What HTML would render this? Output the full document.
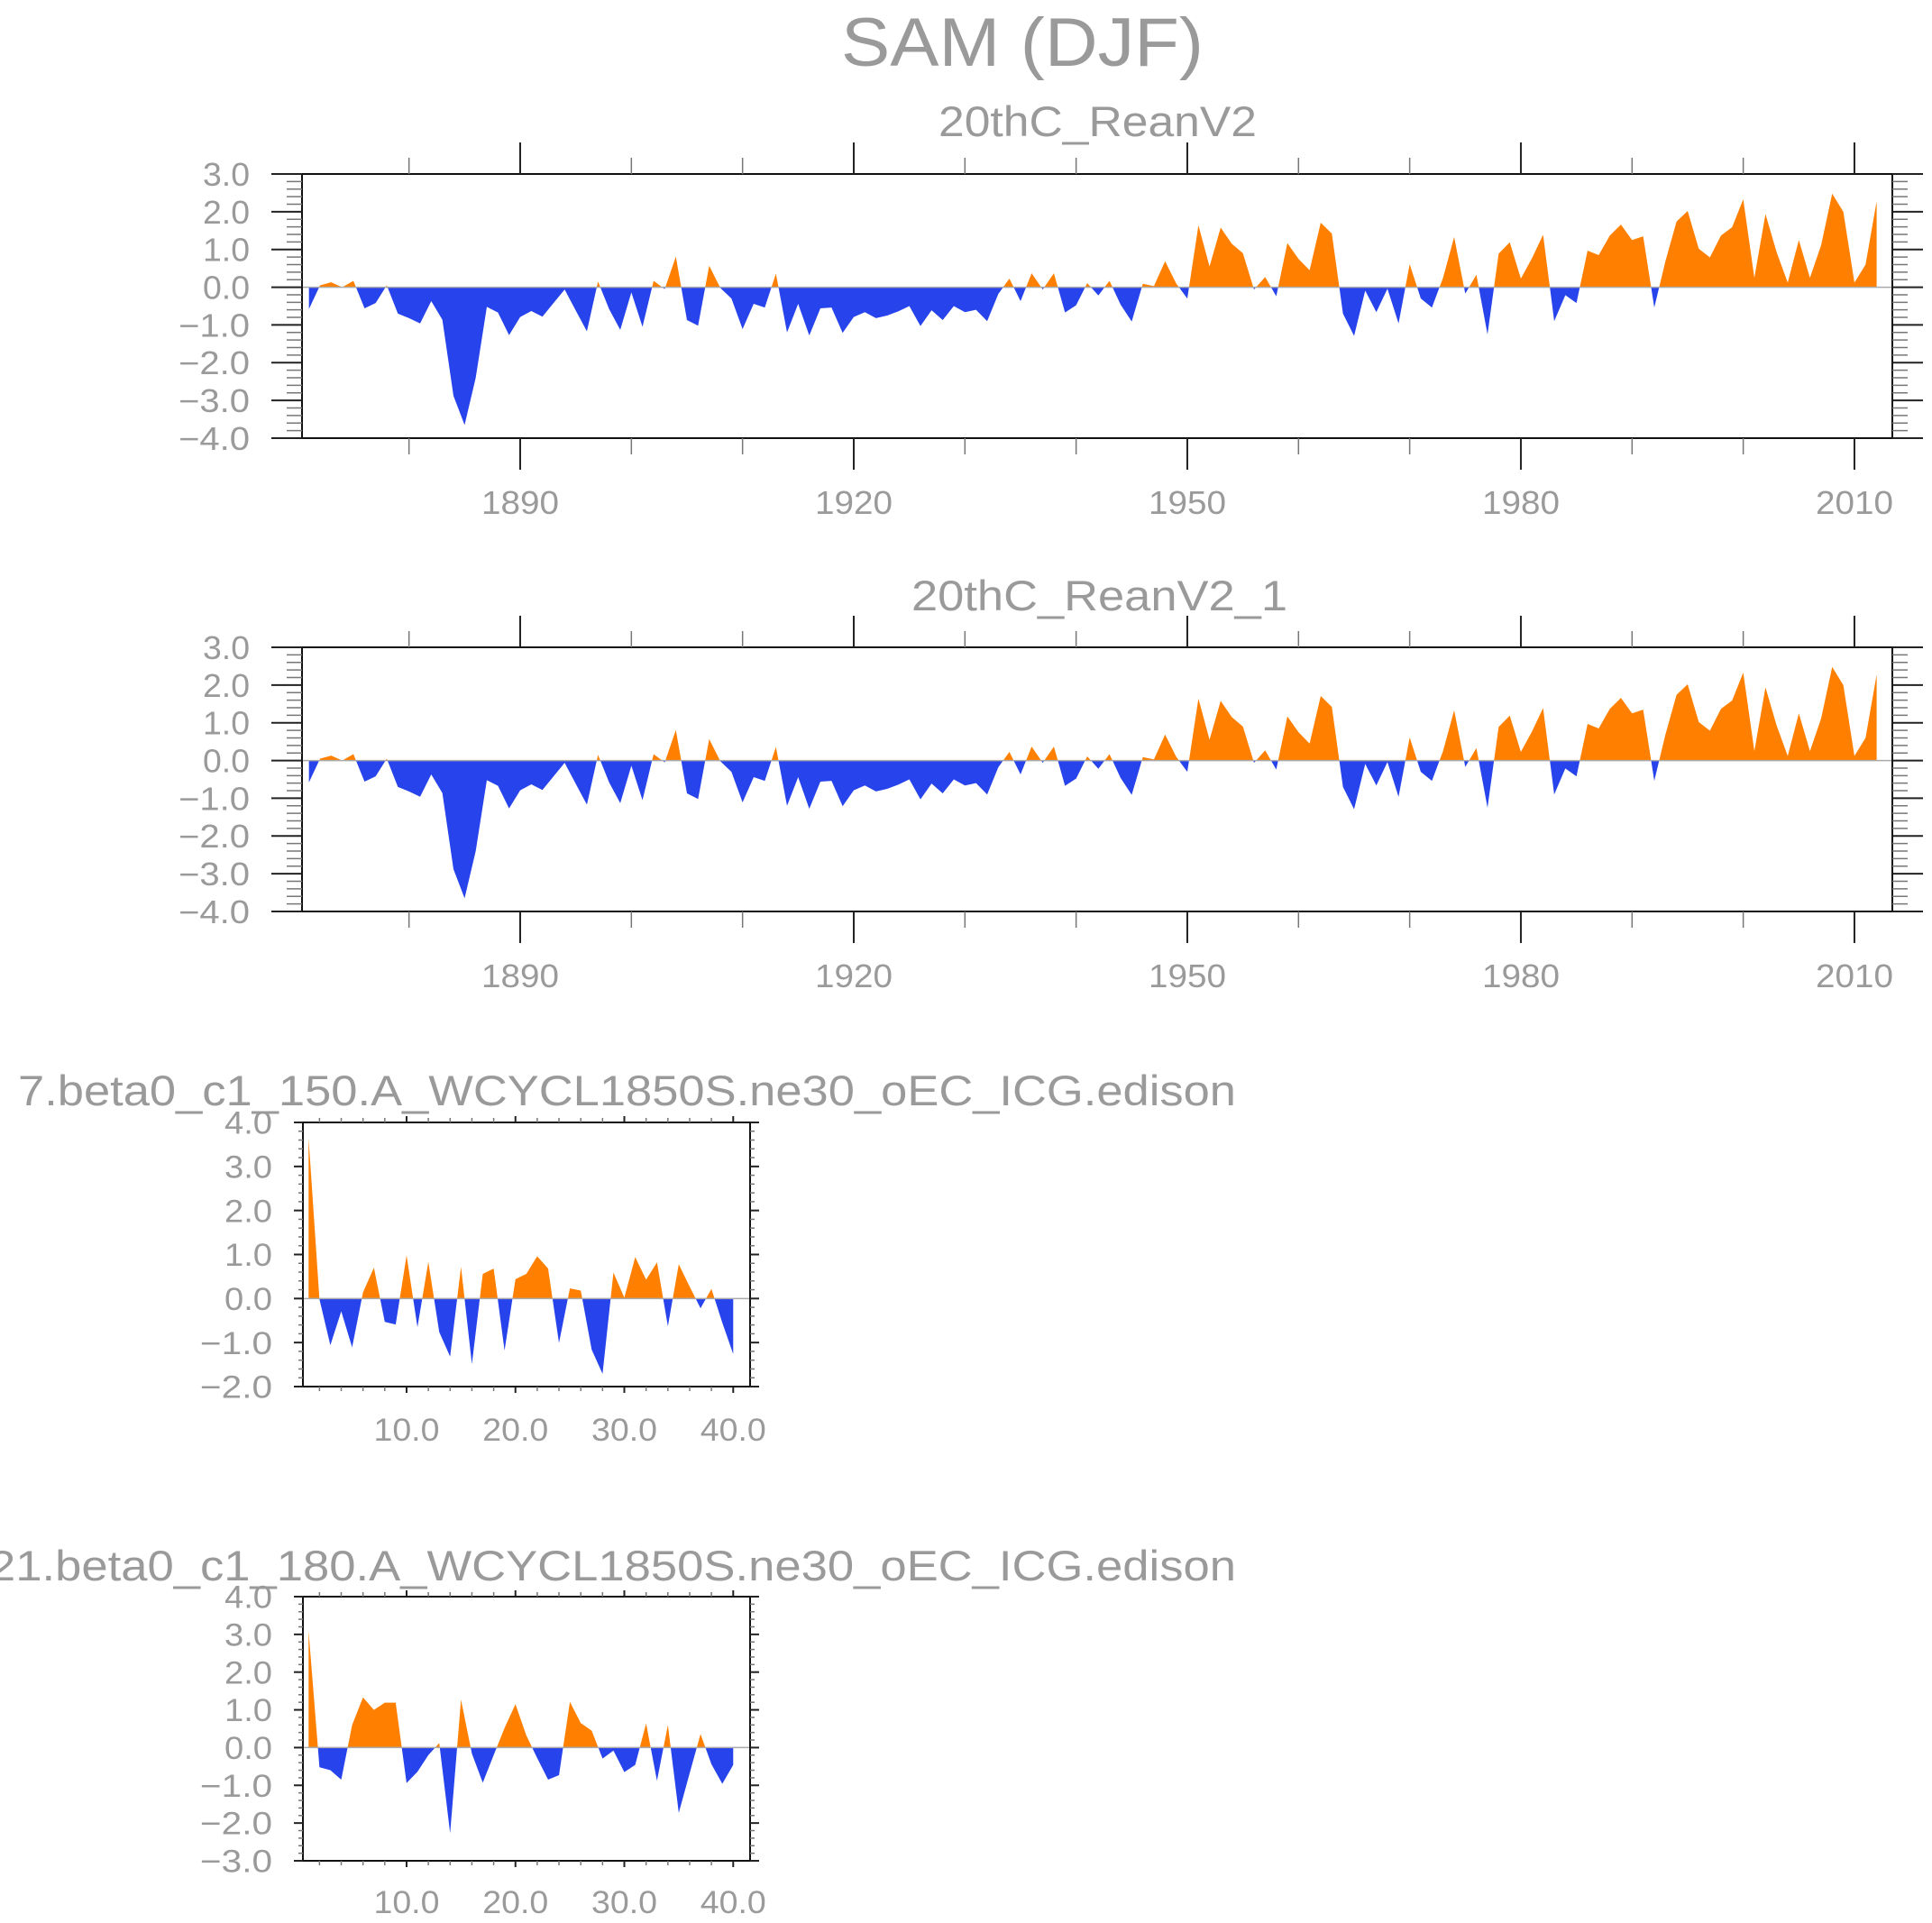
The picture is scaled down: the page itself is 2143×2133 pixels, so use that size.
<!DOCTYPE html>
<html><head><meta charset="utf-8"><style>
html,body{margin:0;padding:0;background:#fff;}
svg{display:block;font-family:"Liberation Sans",sans-serif;}
text{fill:#9a9a9a;}
</style></head><body>
<svg id="fig" width="2143" height="2133" viewBox="0 0 2143 2133" xmlns="http://www.w3.org/2000/svg">
<text x="933" y="73" font-size="76" textLength="402" lengthAdjust="spacingAndGlyphs">SAM (DJF)</text>
</svg>
<script>
// Reanalysis SAM index DJF, 1871-2012
const reanYears = [1871, 2012];
const reanValues = [-0.58,0.05,0.13,0.0,0.17,-0.56,-0.42,0.05,-0.70,-0.82,-0.96,-0.37,-0.86,-2.88,-3.65,-2.40,-0.52,-0.67,-1.27,-0.79,
-0.63,-0.78,-0.42,-0.06,-0.62,-1.17,0.15,-0.58,-1.13,-0.14,-1.05,0.17,-0.05,0.81,-0.87,-1.02,0.57,-0.02,-0.30,-1.11,
-0.44,-0.54,0.36,-1.20,-0.44,-1.28,-0.56,-0.54,-1.21,-0.79,-0.66,-0.82,-0.75,-0.64,-0.50,-1.03,-0.61,-0.87,-0.50,-0.66,
-0.60,-0.90,-0.18,0.23,-0.37,0.37,-0.06,0.37,-0.67,-0.48,0.11,-0.22,0.17,-0.46,-0.91,0.09,0.03,0.69,0.10,-0.30,
1.64,0.55,1.58,1.15,0.90,-0.06,0.27,-0.24,1.17,0.75,0.45,1.71,1.42,-0.70,-1.29,-0.09,-0.66,-0.04,-0.96,0.61,
-0.30,-0.54,0.25,1.33,-0.17,0.33,-1.25,0.89,1.19,0.23,0.77,1.39,-0.90,-0.21,-0.42,0.97,0.85,1.37,1.66,1.25,
1.35,-0.54,0.69,1.74,2.02,1.02,0.79,1.37,1.59,2.33,0.25,1.94,0.93,0.12,1.25,0.25,1.11,2.48,2.00,0.12,0.60,2.28];
const rean1Values = reanValues.slice();
const reanYTicks = [3,2,1,0,-1,-2,-3,-4];
const reanYLabels = ["3.0","2.0","1.0","0.0","\u22121.0","\u22122.0","\u22123.0","\u22124.0"];
const reanXMajor = [1890,1920,1950,1980,2010];
const reanXLabels = ["1890","1920","1950","1980","2010"];
const reanXMinor = [1880,1900,1910,1930,1940,1960,1970,1990,2000];

// model runs, years 1-40
const model150Values = [3.65,-0.02,-1.06,-0.29,-1.11,0.14,0.70,-0.53,-0.59,0.98,-0.65,0.83,-0.76,-1.32,0.72,-1.49,0.56,0.68,-1.18,0.44,
0.56,0.96,0.68,-1.01,0.23,0.18,-1.16,-1.71,0.59,0.02,0.94,0.43,0.82,-0.63,0.78,0.27,-0.22,0.22,-0.55,-1.26];
const model180Values = [3.1,-0.52,-0.60,-0.85,0.60,1.33,1.0,1.19,1.19,-0.94,-0.64,-0.20,0.12,-2.27,1.27,-0.16,-0.93,-0.20,0.52,1.15,
0.32,-0.28,-0.85,-0.73,1.21,0.65,0.45,-0.29,-0.08,-0.65,-0.46,0.64,-0.88,0.60,-1.73,-0.68,0.36,-0.44,-0.96,-0.46];
const m150YTicks = [4,3,2,1,0,-1,-2];
const m150YLabels = ["4.0","3.0","2.0","1.0","0.0","\u22121.0","\u22122.0"];
const m180YTicks = [4,3,2,1,0,-1,-2,-3];
const m180YLabels = ["4.0","3.0","2.0","1.0","0.0","\u22121.0","\u22122.0","\u22123.0"];
const modelXMajor = [10,20,30,40];
const modelXLabels = ["10.0","20.0","30.0","40.0"];

const NS = "http://www.w3.org/2000/svg";
const svg = document.getElementById('fig');
function mk(tag, attrs, parent){
  const e = document.createElementNS(NS, tag);
  for (const k in attrs) e.setAttribute(k, attrs[k]);
  (parent||svg).appendChild(e);
  return e;
}
let clipId = 0;
function drawPanel(c){
  const g = mk('g', {});
  
  
  const sx = v => c.x0 + (v - c.xmin) / (c.xmax - c.xmin) * (c.x1 - c.x0);
  const sy = v => c.y1 - (v - c.ymin) / (c.ymax - c.ymin) * (c.y1 - c.y0);
  const t = mk('text', {x: c.tx, y: c.ty, 'font-size': c.tfs, textLength: c.tw, lengthAdjust: 'spacingAndGlyphs'}, g);
  t.textContent = c.title;
  
  
  const y0 = sy(0);
  let pts = sx(c.xs[0]) + ',' + y0;
  c.vals.forEach((v, i) => { pts += ' ' + sx(c.xs[i]) + ',' + sy(v); });
  pts += ' ' + sx(c.xs[c.xs.length - 1]) + ',' + y0;
  const idA = 'cA' + (clipId++), idB = 'cB' + (clipId++);
  const defs = mk('defs', {}, g);
  const cpA = mk('clipPath', {id: idA}, defs);
  mk('rect', {x: c.x0, y: c.y0, width: c.x1 - c.x0, height: y0 - c.y0}, cpA);
  const cpB = mk('clipPath', {id: idB}, defs);
  mk('rect', {x: c.x0, y: y0, width: c.x1 - c.x0, height: c.y1 - y0}, cpB);
  const pa = mk('polygon', {points: pts, fill: '#ff8000', 'clip-path': 'url(#' + idA + ')'}, g);
  
  
  const pb = mk('polygon', {points: pts, fill: '#2743eb', 'clip-path': 'url(#' + idB + ')'}, g);
  
  
  const zl = mk('line', {x1: c.x0, x2: c.x1, y1: y0, y2: y0, stroke: '#aaa', 'stroke-width': 1.5}, g);
  
  
  const fr = mk('rect', {x: c.x0, y: c.y0, width: c.x1 - c.x0, height: c.y1 - c.y0, fill: 'none', stroke: '#111', 'stroke-width': 2}, g);
  
  
  for (let v = c.ymin; v <= c.ymax + 1e-6; v += c.yminor) {
    const yy = sy(v);
    const maj = Math.abs(v - Math.round(v)) < 1e-6;
    const L = maj ? c.ymajL : c.yminL;
    mk('line', {x1: c.x0 - L, x2: c.x0, y1: yy, y2: yy, stroke: maj ? '#222' : '#777', 'stroke-width': maj ? 2 : 1.5}, g);
    mk('line', {x1: c.x1, x2: c.x1 + L, y1: yy, y2: yy, stroke: maj ? '#222' : '#777', 'stroke-width': maj ? 2 : 1.5}, g);
  }
  c.yticks.forEach((v, i) => {
    const lab = c.ylabels[i];
    const neg = lab.charAt(0) === '\u2212';
    const w = neg ? c.ylw + c.ymw : c.ylw;
    const e = mk('text', {x: c.ylx - w, y: sy(v) + c.lfs * 0.36, 'font-size': c.lfs, textLength: w, lengthAdjust: 'spacingAndGlyphs'}, g);
    e.textContent = lab;
    
    
  });
  c.xmajor.forEach((v, i) => {
    const xx = sx(v);
    mk('line', {x1: xx, x2: xx, y1: c.y0 - c.xmajL, y2: c.y0, stroke: '#222', 'stroke-width': 2}, g);
    mk('line', {x1: xx, x2: xx, y1: c.y1, y2: c.y1 + c.xmajL, stroke: '#222', 'stroke-width': 2}, g);
    const e = mk('text', {x: xx, y: c.xly, 'font-size': c.lfs, 'text-anchor': 'middle', textLength: c.xlw, lengthAdjust: 'spacingAndGlyphs'}, g);
    e.textContent = c.xlabels[i];
    
    
  });
  c.xminor.forEach(v => {
    const xx = sx(v);
    mk('line', {x1: xx, x2: xx, y1: c.y0 - c.xminL, y2: c.y0, stroke: '#777', 'stroke-width': 1.5}, g);
    mk('line', {x1: xx, x2: xx, y1: c.y1, y2: c.y1 + c.xminL, stroke: '#777', 'stroke-width': 1.5}, g);
  });
}
const reanX = reanValues.map((_, i) => reanYears[0] + i);
const xminR = 1890 - (577 - 335) / 12.333, xmaxR = 1890 + (2099 - 577) / 12.333;
drawPanel({name: 'panel-20thc-reanv2', title: '20thC_ReanV2', tx: 1041, ty: 151, tfs: 47, tw: 353,
  x0: 335, x1: 2099, y0: 193, y1: 486, xmin: xminR, xmax: xmaxR, ymin: -4, ymax: 3,
  xs: reanX, vals: reanValues, yminor: 0.2, ymajL: 34, yminL: 17, yticks: reanYTicks, ylabels: reanYLabels,
  ylx: 277, ylw: 52, ymw: 27, lfs: 36, xmajor: reanXMajor, xlabels: reanXLabels, xminor: reanXMinor,
  xmajL: 35, xminL: 18, xly: 570, xlw: 86});
drawPanel({name: 'panel-20thc-reanv2-1', title: '20thC_ReanV2_1', tx: 1011, ty: 677, tfs: 47, tw: 417,
  x0: 335, x1: 2099, y0: 718, y1: 1011, xmin: xminR, xmax: xmaxR, ymin: -4, ymax: 3,
  xs: reanX, vals: rean1Values, yminor: 0.2, ymajL: 34, yminL: 17, yticks: reanYTicks, ylabels: reanYLabels,
  ylx: 277, ylw: 52, ymw: 27, lfs: 36, xmajor: reanXMajor, xlabels: reanXLabels, xminor: reanXMinor,
  xmajL: 35, xminL: 18, xly: 1095, xlw: 86});
const modelX = model150Values.map((_, i) => i + 1);
const mMinor = []; for (let v = 2; v <= 40; v += 2) if (v % 10) mMinor.push(v);
drawPanel({name: 'panel-model-150', title: '7.beta0_c1_150.A_WCYCL1850S.ne30_oEC_ICG.edison', tx: 20, ty: 1226, tfs: 47, tw: 1351,
  x0: 336, x1: 832, y0: 1245, y1: 1538, xmin: 0.48, xmax: 41.55, ymin: -2, ymax: 4,
  xs: modelX, vals: model150Values, yminor: 0.2, ymajL: 10, yminL: 5, yticks: m150YTicks, ylabels: m150YLabels,
  ylx: 302, ylw: 53, ymw: 27, lfs: 35, xmajor: modelXMajor, xlabels: modelXLabels, xminor: mMinor,
  xmajL: 7, xminL: 5, xly: 1598, xlw: 73});
drawPanel({name: 'panel-model-180', title: '21.beta0_c1_180.A_WCYCL1850S.ne30_oEC_ICG.edison', tx: -12, ty: 1753, tfs: 47, tw: 1383,
  x0: 336, x1: 832, y0: 1771, y1: 2064, xmin: 0.48, xmax: 41.55, ymin: -3, ymax: 4,
  xs: modelX, vals: model180Values, yminor: 0.2, ymajL: 10, yminL: 5, yticks: m180YTicks, ylabels: m180YLabels,
  ylx: 302, ylw: 53, ymw: 27, lfs: 35, xmajor: modelXMajor, xlabels: modelXLabels, xminor: mMinor,
  xmajL: 7, xminL: 5, xly: 2122, xlw: 73});
</script>
</body></html>
